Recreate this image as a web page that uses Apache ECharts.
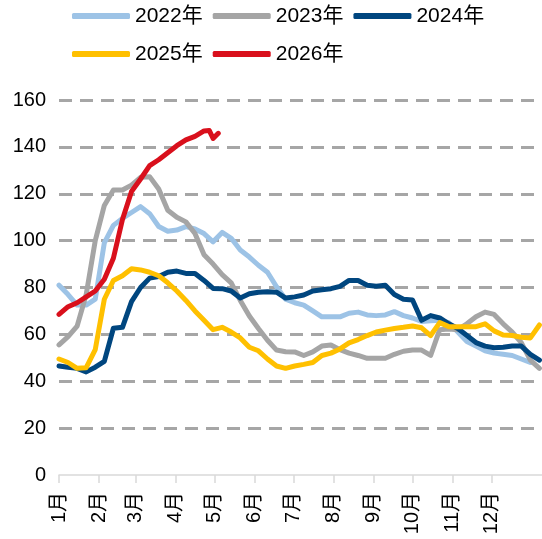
<!DOCTYPE html>
<html>
<head>
<meta charset="utf-8">
<script src="https://cdn.jsdelivr.net/npm/echarts@6/dist/echarts.min.js"></script>
<style>
html,body{margin:0;padding:0;background:#fff;}
#c{width:542px;height:539px;}
</style>
</head>
<body>
<div id="c"></div>
<script>
// Day-of-year positions (weekly samples)
const days = [0,7,14,21,28,35,42,49,56,63,70,77,84,91,98,105,112,119,126,133,140,147,154,161,168,175,182,189,196,203,210,217,224,231,238,245,252,259,266,273,280,287,294,301,308,315,322,329,336,343,350,357,364,371];
const days2026 = [0,7,14,21,28,35,42,49,56,63,70,77,84,91,98,105,112,116,119,123];

const v2022 = [81,77,72.5,72.5,75,99,106.5,109.5,112,114.5,111.5,106,104,104.5,106,105,103,99.5,103.5,101,96,93,89.5,86.5,80.3,75,73.5,72.5,70,67.5,67.5,67.5,69,69.5,68.3,68,68.3,69.7,68,67,65.5,65.8,66,65,61,57,55,53,52,51.5,51,49.5,48,null];
const v2023 = [55.5,59,63.5,77,100,115,121.6,121.6,123.7,127,127.3,122,113,110,108,103,94,90,85.5,82,74.5,67.8,62.5,57.5,53.3,52.6,52.5,51,52.5,55,55.5,53.5,52,51,49.8,49.8,49.8,51.5,52.8,53.3,53.3,51,62,62.3,62,64.5,67.5,69.5,68.5,64.5,61,56.5,49,45.5];
const v2024 = [46.5,46,45.5,44,46,48.5,62.6,63,74,80,84,84.7,86.5,87,86,86,83,79.6,79.5,78.5,75.5,77.3,78,78.2,78,75.5,76,76.8,78.5,79,79.5,80.5,83,83,81,80.5,81,77,75,74.7,66,68,67,64.5,62.5,59.5,56.5,55,54.3,54.5,55,55,51.5,49];
const v2025 = [49.5,48,45.5,45.8,53.5,75,83,85,88,87.5,86.5,85,82,78.5,74.5,70,66,62,63,61,58.5,54.5,53,49.5,46.5,45.5,46.5,47.2,48,51,52,53.8,56.4,57.8,59.5,61,61.8,62.5,63,63.6,62.8,59.5,65,63.3,63.3,63.3,63.3,64.5,61.5,59.7,59.5,58.8,58.5,64];
const v2026 = [68.5,71.8,73.5,76,78.5,83.5,92.5,109,121,126.3,132,134.5,137.5,140.5,143,144.5,146.8,147,143.6,145.8];

const seriesNames = ['2022年','2023年','2024年','2025年','2026年'];
const colors = ['#9dc3e6','#a5a5a5','#00467f','#ffc000','#d9101c'];
const monthStarts = [0,31,59,90,120,151,181,212,243,273,304,334];
const monthLabels = ['1月','2月','3月','4月','5月','6月','7月','8月','9月','10月','11月','12月'];
const yTicks = [0,20,40,60,80,100,120,140,160];

function pairs(xs, ys){ return xs.map((x,i)=>[x, ys[i]]); }
const seriesData = [pairs(days,v2022),pairs(days,v2023),pairs(days,v2024),pairs(days,v2025),pairs(days2026,v2026)];

const chart = echarts.init(document.getElementById('c'), null, {renderer:'canvas'});
const FONT = '"Liberation Sans", Arial, "Noto Sans CJK SC", sans-serif';
chart.setOption({
  animation:false,
  backgroundColor:'#fff',
  textStyle:{fontFamily:FONT},
  legend:{
    left:72, top:2, width:440, padding:[0,0,0,0],
    itemWidth:58, itemHeight:6, itemGap:10,
    icon:'roundRect',
    textStyle:{fontSize:21, color:'#000', fontFamily:FONT, lineHeight:28},
    data:seriesNames
  },
  grid:{left:59, right:0, top:100, bottom:64, containLabel:false},
  xAxis:{
    type:'value', min:0, max:373,
    axisLine:{show:true, lineStyle:{color:'#d9d9d9', width:1.5}},
    axisTick:{show:true, customValues:monthStarts, length:8, lineStyle:{color:'#d9d9d9', width:1.5}},
    axisLabel:{show:true, customValues:monthStarts, rotate:90, margin:17, fontSize:20, color:'#000', fontFamily:FONT,
      formatter:function(v){ const i = monthStarts.indexOf(v); return i>=0 ? monthLabels[i] : ''; }},
    splitLine:{show:false}
  },
  yAxis:{
    type:'value', min:yTicks[0], max:yTicks[yTicks.length-1], interval:20,
    axisLine:{show:false}, axisTick:{show:false},
    axisLabel:{fontSize:20, color:'#000', margin:13, fontFamily:FONT},
    splitLine:{show:true, showMinLine:false, lineStyle:{color:'#a6a6a6', width:3, type:[13,8]}}
  },
  series: seriesNames.map((n,i)=>({
    name:n, type:'line', data:seriesData[i], showSymbol:false, symbol:'none',
    connectNulls:false,
    lineStyle:{color:colors[i], width:5, cap:'round', join:'round'},
    itemStyle:{color:colors[i]},
    z:2+i
  }))
});
</script>
</body>
</html>
